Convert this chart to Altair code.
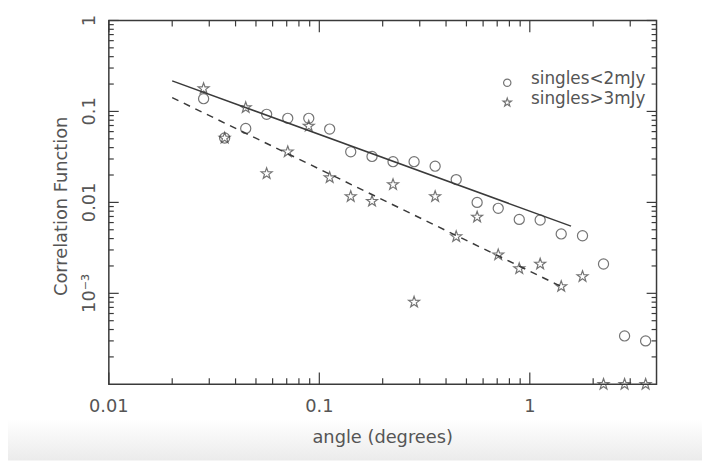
import altair as alt
import pandas as pd

# ---------------- data ----------------
angles = [0.0282, 0.0355, 0.0447, 0.0562, 0.0708, 0.0891, 0.112, 0.141, 0.178, 0.224, 0.282,
          0.355, 0.447, 0.562, 0.708, 0.891, 1.12, 1.41, 1.78, 2.24, 2.82, 3.55]
faint = [0.138, 0.051, 0.065, 0.093, 0.084, 0.084, 0.064, 0.036, 0.032, 0.028, 0.028,
         0.025, 0.0178, 0.0100, 0.0086, 0.0065, 0.0064, 0.0045, 0.0043, 0.0021, 0.00034, 0.00030]
# last three points sit on the lower edge of the plot (values below the axis minimum)
bright = [0.178, 0.051, 0.110, 0.0207, 0.036, 0.069, 0.0187, 0.0116, 0.0103, 0.0157, 0.0008,
          0.0116, 0.0042, 0.0069, 0.00265, 0.00187, 0.0021, 0.00119, 0.00153, 1e-4, 1e-4, 1e-4]
legend_labels = ["singles<2mJy", "singles>3mJy"]

fit_solid_x = [0.02, 1.57]
fit_solid_y = [0.217, 0.00548]
fit_dash_x = [0.02, 1.41]
fit_dash_y = [0.142, 0.00119]

x_major = [0.01, 0.1, 1]
x_major_labels = ["0.01", "0.1", "1"]
x_minor = [0.02, 0.03, 0.04, 0.05, 0.06, 0.07, 0.08, 0.09,
           0.2, 0.3, 0.4, 0.5, 0.6, 0.7, 0.8, 0.9, 2, 3]
y_major = [1, 0.1, 0.01, 0.001]
y_major_labels = ["1", "0.1", "0.01", "10\u207b\u00b3"]
y_minor = [0.0002, 0.0003, 0.0004, 0.0005, 0.0006, 0.0007, 0.0008, 0.0009,
           0.002, 0.003, 0.004, 0.005, 0.006, 0.007, 0.008, 0.009,
           0.02, 0.03, 0.04, 0.05, 0.06, 0.07, 0.08, 0.09,
           0.2, 0.3, 0.4, 0.5, 0.6, 0.7, 0.8, 0.9]
x_title = "angle (degrees)"
y_title = "Correlation Function"

# ---------------- styling ----------------
W, H = 554, 368
INK = "#3a3a3a"
TXT = "#555555"
FONT = "DejaVu Sans"
FS = 18
STAR = ("M0,-1L0.235,-0.324L0.951,-0.309L0.38,0.124L0.588,0.809L0,0.4"
        "L-0.588,0.809L-0.38,0.124L-0.951,-0.309L-0.235,-0.324Z")

xs = alt.Scale(type="log", domain=[0.01, 4], nice=False)
ys = alt.Scale(type="log", domain=[1e-4, 1], nice=False)


def X(field):
    return alt.X(field, type="quantitative", scale=xs, axis=None)


def Y(field):
    return alt.Y(field, type="quantitative", scale=ys, axis=None)


pts = pd.DataFrame({"angle": angles, "faint": faint, "bright": bright})
solid = pd.DataFrame({"angle": fit_solid_x, "corr": fit_solid_y})
dashed = pd.DataFrame({"angle": fit_dash_x, "corr": fit_dash_y})
one = pd.DataFrame({"a": [0]})

bg = alt.Chart(one).mark_rect(
    fill=alt.Gradient(gradient="linear",
                      stops=[alt.GradientStop(color="#ffffff", offset=0),
                             alt.GradientStop(color="#ebebeb", offset=1)],
                      x1=0, x2=0, y1=0, y2=1)
).encode(x=alt.value(-102), x2=alt.value(W + 46), y=alt.value(404), y2=alt.value(H + 77))

circles = alt.Chart(pts).mark_point(shape="circle", filled=False, size=105, stroke=INK,
                                    strokeWidth=1.2).encode(x=X("angle"), y=Y("faint"))
stars = alt.Chart(pts).mark_point(shape=STAR, filled=False, size=135, stroke=INK,
                                  strokeWidth=1.2).encode(x=X("angle"), y=Y("bright"))
line_solid = alt.Chart(solid).mark_line(color=INK, strokeWidth=1.5).encode(
    x=X("angle"), y=Y("corr"))
line_dash = alt.Chart(dashed).mark_line(color=INK, strokeWidth=1.5, strokeDash=[7, 6]).encode(
    x=X("angle"), y=Y("corr"))

tick_layers = []
for vals, ln in ((x_major, 12), (x_minor, 6)):
    d = pd.DataFrame({"t": vals})
    for y0, y1 in ((H, H - ln), (0, ln)):
        tick_layers.append(alt.Chart(d).mark_rule(color=INK, strokeWidth=1.2).encode(
            x=X("t"), y=alt.value(y0), y2=alt.value(y1)))
for vals, ln in ((y_major, 10), (y_minor, 5)):
    d = pd.DataFrame({"t": vals})
    for x0, x1 in ((0, ln), (W, W - ln)):
        tick_layers.append(alt.Chart(d).mark_rule(color=INK, strokeWidth=1.2).encode(
            y=Y("t"), x=alt.value(x0), x2=alt.value(x1)))

# axis tick labels (placed by the scales)
xlab = alt.Chart(pd.DataFrame({"t": x_major, "lab": x_major_labels})).mark_text(
    font=FONT, fontSize=FS, color=TXT, align="center", baseline="middle").encode(
    x=X("t"), y=alt.value(H + 23), text="lab:N")
ylab = alt.Chart(pd.DataFrame({"t": y_major, "lab": y_major_labels})).mark_text(
    font=FONT, fontSize=FS, color=TXT, align="center", baseline="middle", angle=270).encode(
    y=Y("t"), x=alt.value(-19), text="lab:N")
ttl = pd.DataFrame({"x": [x_title], "y": [y_title]})
xttl = alt.Chart(ttl).mark_text(font=FONT, fontSize=FS, color=TXT, align="center",
                                baseline="middle").encode(
    text="x:N", x=alt.value(W / 2), y=alt.value(H + 54))
yttl = alt.Chart(ttl).mark_text(font=FONT, fontSize=FS, color=TXT, align="center",
                                baseline="middle", angle=270).encode(
    text="y:N", x=alt.value(-47), y=alt.value(H / 2 + 4))

leg = pd.DataFrame({"label": legend_labels})
LFS = 17
leg_c = alt.Chart(leg.iloc[[0]]).mark_point(shape="circle", filled=False, size=55, stroke=INK,
                                            strokeWidth=1.2).encode(x=alt.value(403), y=alt.value(63))
leg_s = alt.Chart(leg.iloc[[1]]).mark_point(shape=STAR, filled=False, size=80, stroke=INK,
                                            strokeWidth=1.2).encode(x=alt.value(403), y=alt.value(83))
leg_t1 = alt.Chart(leg.iloc[[0]]).mark_text(align="left", baseline="middle", font=FONT,
                                            fontSize=LFS, color=TXT).encode(
    text="label:N", x=alt.value(427), y=alt.value(59))
leg_t2 = alt.Chart(leg.iloc[[1]]).mark_text(align="left", baseline="middle", font=FONT,
                                            fontSize=LFS, color=TXT).encode(
    text="label:N", x=alt.value(427), y=alt.value(79))

chart = alt.layer(
    bg, *tick_layers, line_solid, line_dash, circles, stars,
    xlab, ylab, xttl, yttl, leg_c, leg_s, leg_t1, leg_t2
).properties(
    width=W, height=H,
    autosize=alt.AutoSizeParams(type="none"),
    padding={"left": 102, "top": 10, "right": 46, "bottom": 77},
).configure(background="#ffffff").configure_view(stroke=INK, strokeWidth=1.5)

chart.save("out.html", embed_options={"renderer": "svg", "actions": False})
